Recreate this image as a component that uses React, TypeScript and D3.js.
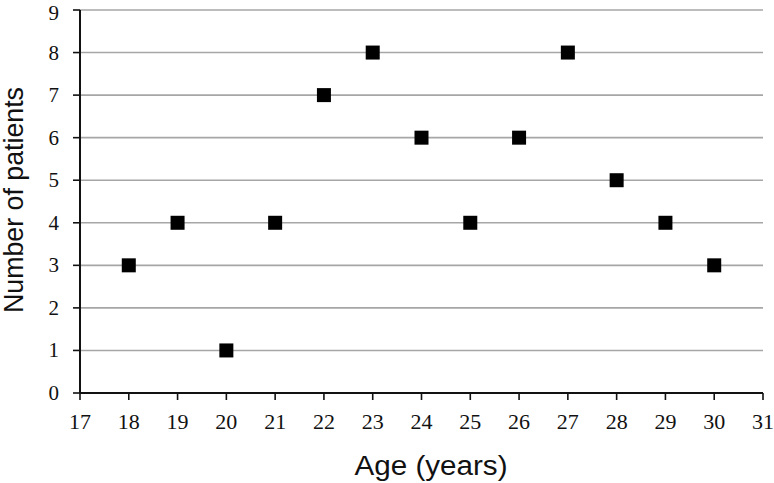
import React from "react";
import * as d3 from "d3";

const ages = [18, 19, 20, 21, 22, 23, 24, 25, 26, 27, 28, 29, 30];
const patients = [3, 4, 1, 4, 7, 8, 6, 4, 6, 8, 5, 4, 3];
const xTicks = d3.range(17, 32);
const yTicks = d3.range(0, 10);

const width = 774;
const height = 483;
const left = 80;
const right = 763;
const top = 10;
const bottom = 393;

export default function App() {
    const x = d3.scaleLinear().domain([17, 31]).range([left, right]);
    const y = d3.scaleLinear().domain([0, 9]).range([bottom, top]);
    const size = 14;

    return <svg width={width} height={height}
        style={{ position: "absolute", left: 0, top: 0, background: "#fff" }}>
        {yTicks.filter(t => t > 0).map(t =>
            <line key={"g" + t} x1={left} x2={right} y1={y(t)} y2={y(t)}
                stroke="#a6a6a6" strokeWidth={1.6} />)}
        {yTicks.map(t =>
            <g key={"y" + t}>
                <line x1={left - 7} x2={left} y1={y(t)} y2={y(t)} stroke="#111" strokeWidth={1.6} />
                {/* keep the top label's box inside the page */}
                <text x={59} y={Math.max(y(t) + 7, 20)} textAnchor="end"
                    fontFamily="Liberation Serif" fontSize={21} fill="#111">{t}</text>
            </g>)}
        {xTicks.map(t =>
            <g key={"x" + t}>
                <line x1={x(t)} x2={x(t)} y1={bottom} y2={bottom + 7} stroke="#111" strokeWidth={1.6} />
                <text x={x(t)} y={429} textAnchor="middle"
                    fontFamily="Liberation Serif" fontSize={22} fill="#111">{t}</text>
            </g>)}
        <line x1={left} x2={left} y1={top} y2={bottom} stroke="#111" strokeWidth={2} />
        <line x1={left} x2={right} y1={bottom} y2={bottom} stroke="#111" strokeWidth={2} />
        {ages.map((a, i) =>
            <rect key={"p" + a} x={x(a) - size / 2} y={y(patients[i]) - size / 2}
                width={size} height={size} fill="#000" />)}
        <text x={431} y={475} textAnchor="middle" fontFamily="Liberation Sans"
            fontSize={27} textLength={153} lengthAdjust="spacingAndGlyphs" fill="#111">Age (years)</text>
        <text transform="translate(23,200) rotate(-90)" textAnchor="middle"
            fontFamily="Liberation Sans" fontSize={27} textLength={226}
            lengthAdjust="spacingAndGlyphs" fill="#111">Number of patients</text>
    </svg>;
}
